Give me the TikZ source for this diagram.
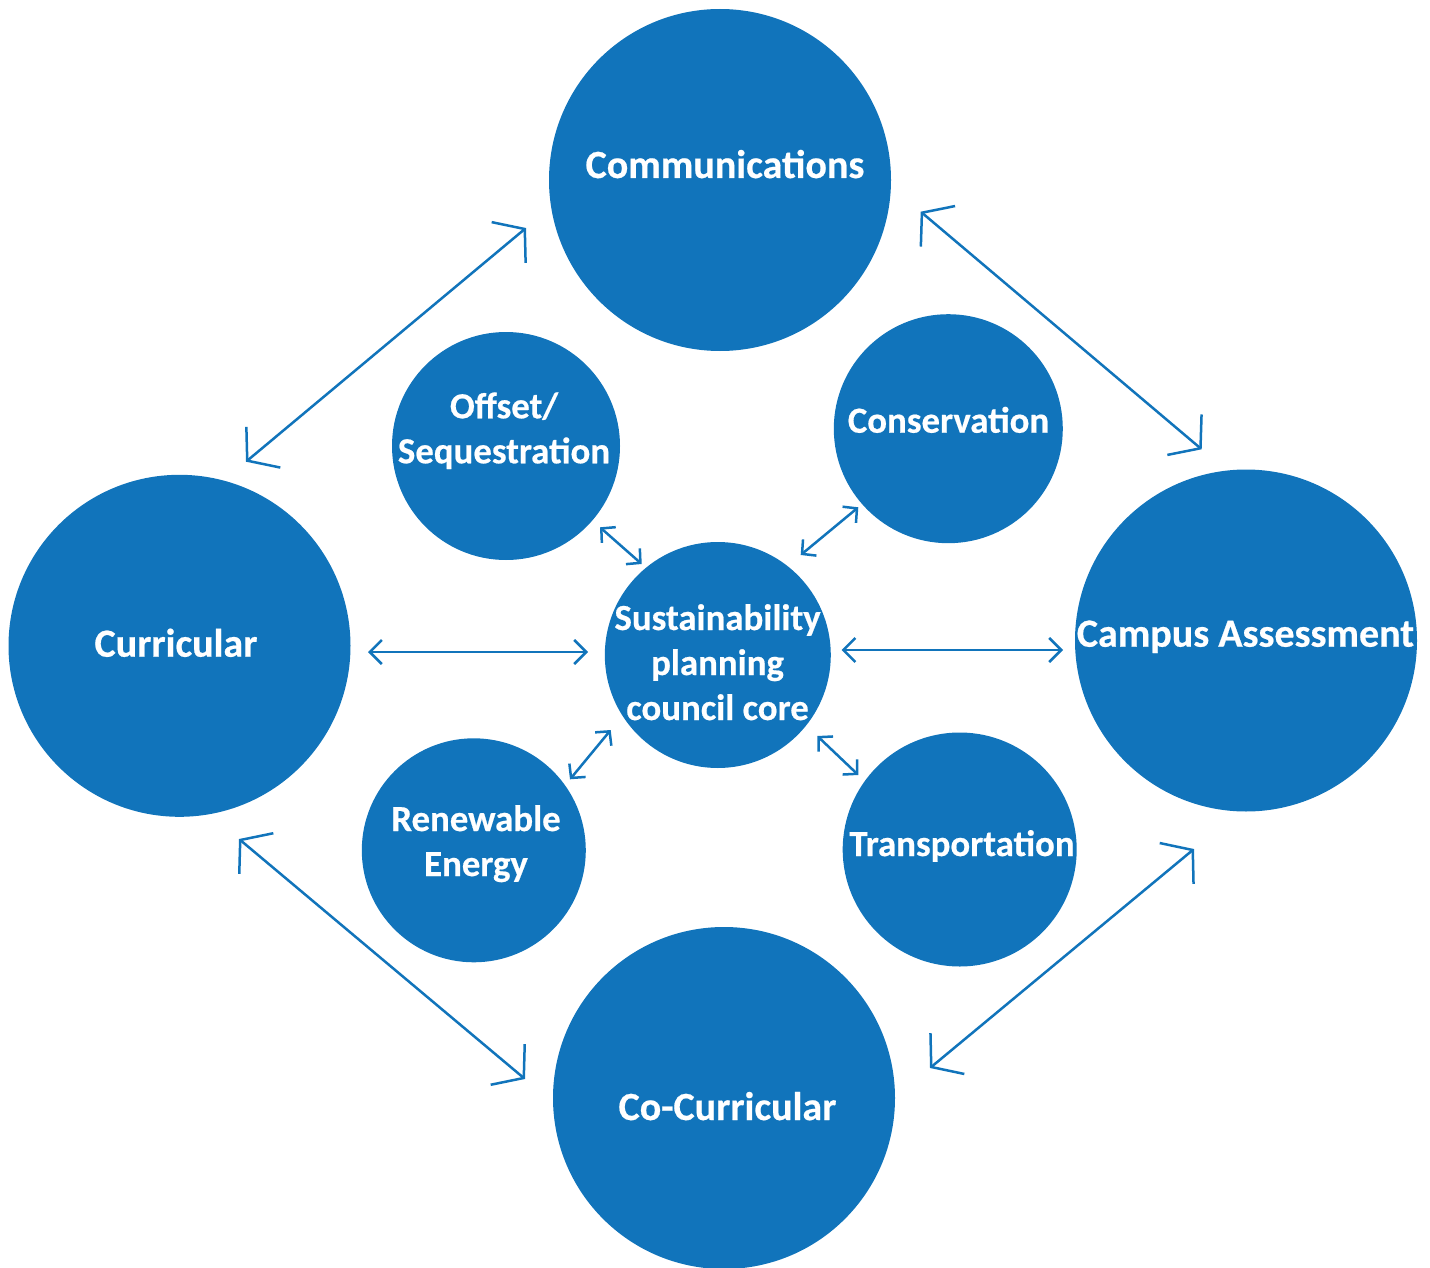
\documentclass[tikz,border=0pt]{standalone}
\usepackage{fontspec}
\newfontfamily\bigf{Carlito Bold}[FakeBold=0.5]
\newfontfamily\smallf{Carlito Bold}[FakeBold=0.5]
\usetikzlibrary{arrows.meta}
\definecolor{cblue}{RGB}{17,116,187}
\tikzset{
  ball/.style={circle, fill=cblue, draw=none, inner sep=0pt},
  txt/.style={text=white, font=\fontsize{40}{45}\selectfont\bigf, align=center, inner sep=0pt, anchor=base},
  stxt/.style={txt, font=\fontsize{36.8}{45}\selectfont\smallf},
  bigarr/.style={draw=cblue, line width=2.5pt, line join=miter,
     {Straight Barb[length=21pt,width=53pt,line width=2.5pt]}-{Straight Barb[length=21pt,width=53pt,line width=2.5pt]}},
  midarr/.style={draw=cblue, line width=2.5pt, line join=miter,
     {Straight Barb[length=12pt,width=24pt,line width=2.5pt]}-{Straight Barb[length=12pt,width=24pt,line width=2.5pt]}},
  smallarr/.style={draw=cblue, line width=2.5pt, line join=miter,
     {Straight Barb[length=10pt,width=21pt,line width=2.5pt]}-{Straight Barb[length=10pt,width=21pt,line width=2.5pt]}}
}
\begin{document}
\begin{tikzpicture}[x=1pt,y=-1pt]
\useasboundingbox (0,0) rectangle (1430,1268);
% big circles
\node[ball, minimum size=342pt] (comm) at (720,180) {};
\node[ball, minimum size=342pt] (curr) at (179.5,645.8) {};
\node[ball, minimum size=342pt] (camp) at (1246,640.5) {};
\node[ball, minimum size=342pt] (cocu) at (724,1098) {};
% small circles
\node[ball, minimum size=226pt] (core) at (717.8,655) {};
\node[ball, minimum size=228pt] (offs) at (506,446) {};
\node[ball, minimum size=229pt] (cons) at (948.3,428.7) {};
\node[ball, minimum size=224pt] (rene) at (473.8,850.3) {};
\node[ball, minimum size=234pt] (tran) at (959.7,849.5) {};
% texts (anchor = baseline of last line)
\node[txt] (tcomm) at (725,178) {Communications};
\node[txt] (tcurr) at (176,656.7) {Curricular};
\node[txt] (tcamp) at (1245.5,646.7) {Campus Assessment};
\node[txt] (tcocu) at (727.5,1120) {Co-Curricular};
\node[stxt] (tcore) at (717.5,720) {Sustainability\\planning\\council core};
\node[stxt] (toffs) at (504,463.3) {Offset/\\Sequestration};
\node[stxt] (tcons) at (948.5,432.7) {Conservation};
\node[stxt] (trene) at (476,876) {Renewable\\Energy};
\node[stxt] (ttran) at (962,856) {Transportation};
% connector end points
\coordinate (a1) at (246,461.7);
\coordinate (a2) at (526,228);
\coordinate (b1) at (920.7,211.7);
\coordinate (b2) at (1201.7,449.3);
\coordinate (c1) at (239,839);
\coordinate (c2) at (525,1079);
\coordinate (d1) at (1194,849);
\coordinate (d2) at (930,1068);
\coordinate (e1) at (368,652);
\coordinate (e2) at (588,652);
\coordinate (f1) at (841.7,650);
\coordinate (f2) at (1063,650);
\coordinate (g1) at (600,527.3);
\coordinate (g2) at (641.7,564);
\coordinate (h1) at (858.3,507.3);
\coordinate (h2) at (800.7,555);
\coordinate (i1) at (610.7,730);
\coordinate (i2) at (570,779.3);
\coordinate (j1) at (817.3,736);
\coordinate (j2) at (858.3,775);
% connectors
\draw[bigarr] (a1) -- (a2);
\draw[bigarr] (b1) -- (b2);
\draw[bigarr] (c1) -- (c2);
\draw[bigarr] (d1) -- (d2);
\draw[midarr] (e1) -- (e2);
\draw[midarr] (f1) -- (f2);
\draw[smallarr] (g1) -- (g2);
\draw[smallarr] (h1) -- (h2);
\draw[smallarr] (i1) -- (i2);
\draw[smallarr] (j1) -- (j2);
\end{tikzpicture}
\end{document}
